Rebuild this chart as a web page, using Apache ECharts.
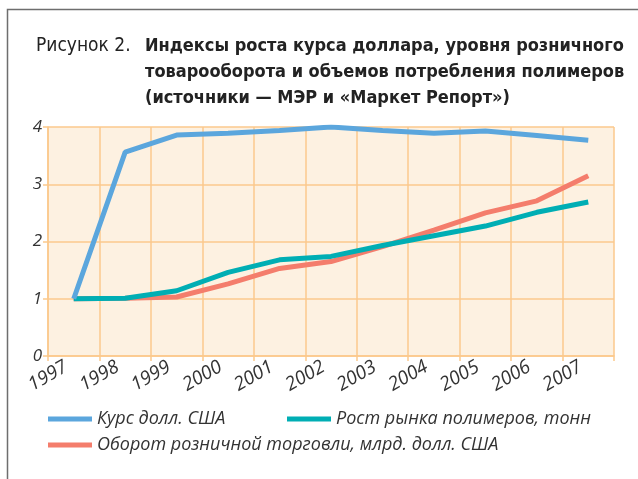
<!DOCTYPE html>
<html>
<head>
<meta charset="utf-8">
<script src="https://cdn.jsdelivr.net/npm/echarts@6/dist/echarts.min.js"></script>
<style>
html,body{margin:0;padding:0;background:#fff;}
#chart{width:638px;height:479px;}
</style>
</head>
<body>
<div id="chart"></div>
<script>
// ---- data ----
var years = ['1997','1998','1999','2000','2001','2002','2003','2004','2005','2006','2007'];
var tickLabels = ['1997','1998','1999','2000','2001','2002','2003','2004','2005','2006','2007',''];
var yTicks = [0, 1, 2, 3, 4];
var usdRate = [1.0, 3.56, 3.86, 3.89, 3.94, 4.0, 3.94, 3.89, 3.93, 3.85, 3.77];
var polymerMarket = [1.0, 1.01, 1.14, 1.46, 1.68, 1.74, 1.93, 2.10, 2.27, 2.51, 2.69];
var retailTurnover = [1.0, 1.01, 1.03, 1.26, 1.53, 1.65, 1.91, 2.20, 2.50, 2.71, 3.15];
var seriesNames = ['Курс долл. США', 'Рост рынка полимеров, тонн', 'Оборот розничной торговли, млрд. долл. США'];
var titleLead = 'Рисунок 2. ';
var titleLines = ['Индексы роста курса доллара, уровня розничного', 'товарооборота и объемов потребления полимеров', '(источники — МЭР и «Маркет Репорт»)'];

var C_BLUE = '#5ba6dd', C_TEAL = '#00aeb4', C_RED = '#f47d6c';
var GRID_C = '#fbc98c';
var FONT = '"Open Sans", "Noto Sans", sans-serif';
var TFONT = '"Liberation Sans Narrow", "DejaVu Sans Condensed", "Noto Sans", sans-serif';

var chart = echarts.init(document.getElementById('chart'), null, {renderer: 'canvas'});

function legendAt(name, left, top) {
  return {
    data: [name], left: left, top: top, orient: 'horizontal',
    icon: 'rect', itemWidth: 44, itemHeight: 5, itemGap: 10, padding: 0,
    selectedMode: false,
    textStyle: {fontFamily: FONT, fontStyle: 'italic', fontSize: 18, color: '#333', lineHeight: 20}
  };
}

var option = {
  animation: false,
  backgroundColor: '#ffffff',
  graphic: [
    {type: 'polyline', shape: {points: [[7.5, 479], [7.5, 9.5], [638, 9.5]]}, style: {stroke: '#6e6e6e', lineWidth: 1.5, fill: null}},
    {type: 'text', left: 36, top: 37, style: {text: titleLead, font: '19px ' + TFONT, fill: '#222'}},
    {type: 'text', left: 145, top: 37, style: {text: titleLines[0], font: 'bold 18px ' + TFONT, fill: '#222'}},
    {type: 'text', left: 145, top: 63, style: {text: titleLines[1], font: 'bold 18px ' + TFONT, fill: '#222'}},
    {type: 'text', left: 145, top: 89, style: {text: titleLines[2], font: 'bold 18px ' + TFONT, fill: '#222'}}
  ],
  legend: [
    legendAt(seriesNames[0], 48, 409),
    legendAt(seriesNames[1], 287, 409),
    legendAt(seriesNames[2], 48, 435)
  ],
  grid: {left: 48, right: 24, top: 127, bottom: 123, show: true, backgroundColor: '#fdf1e1', borderWidth: 0},
  xAxis: [
    {type: 'category', data: years, boundaryGap: true, position: 'top',
     axisLine: {show: false}, axisTick: {show: false}, axisLabel: {show: false}, splitLine: {show: false}},
    {type: 'category', data: tickLabels, boundaryGap: false, position: 'bottom',
     axisLine: {show: true, lineStyle: {color: GRID_C, width: 1.5}},
     axisTick: {show: true, length: 5, lineStyle: {color: GRID_C, width: 1.5}},
     splitLine: {show: true, lineStyle: {color: GRID_C, width: 1.5}},
     axisLabel: {show: true, interval: 0, rotate: 30, align: 'center', verticalAlign: 'middle', margin: 20,
       fontFamily: FONT, fontStyle: 'italic', fontSize: 19, color: '#333'}}
  ],
  yAxis: {
    type: 'value', min: yTicks[0], max: yTicks[yTicks.length - 1], interval: 1,
    axisLine: {show: true, lineStyle: {color: GRID_C, width: 1.5}},
    axisTick: {show: true, length: 5, lineStyle: {color: GRID_C, width: 1.5}},
    splitLine: {show: true, lineStyle: {color: GRID_C, width: 1.5}},
    axisLabel: {margin: 6, fontFamily: FONT, fontStyle: 'italic', fontSize: 17, color: '#333'}
  },
  series: [
    {name: seriesNames[2], type: 'line', xAxisIndex: 0, data: retailTurnover, showSymbol: false, symbol: 'none',
     lineStyle: {color: C_RED, width: 5}, itemStyle: {color: C_RED}},
    {name: seriesNames[1], type: 'line', xAxisIndex: 0, data: polymerMarket, showSymbol: false, symbol: 'none',
     lineStyle: {color: C_TEAL, width: 5}, itemStyle: {color: C_TEAL}},
    {name: seriesNames[0], type: 'line', xAxisIndex: 0, data: usdRate, showSymbol: false, symbol: 'none',
     lineStyle: {color: C_BLUE, width: 5}, itemStyle: {color: C_BLUE}}
  ]
};
chart.setOption(option);
</script>
</body>
</html>
